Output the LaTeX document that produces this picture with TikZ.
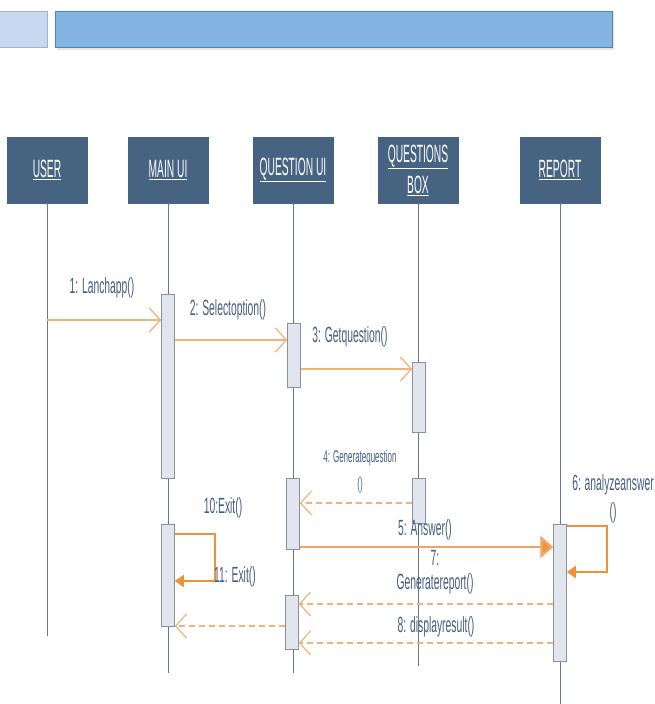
\documentclass[tikz,border=0pt]{standalone}
\usepackage{fontspec}
\setmainfont{Liberation Sans}
\newfontfamily\hdrfont{Liberation Sans}[FakeStretch=0.41]
\newfontfamily\lblfont{Liberation Sans}[FakeStretch=0.47]
\usetikzlibrary{arrows.meta,calc}
\definecolor{hdrc}{RGB}{70,99,130}
\definecolor{lifec}{RGB}{110,118,132}
\definecolor{actf}{RGB}{226,229,238}
\definecolor{actd}{RGB}{135,144,160}
\definecolor{orl}{RGB}{242,178,122}
\definecolor{orf}{RGB}{240,145,58}
\definecolor{ora}{RGB}{242,165,95}
\definecolor{lblc}{RGB}{68,94,128}
\definecolor{barf}{RGB}{132,180,226}
\definecolor{bard}{RGB}{74,134,184}
\definecolor{smf}{RGB}{200,216,240}
\definecolor{smd}{RGB}{160,178,205}
\tikzset{
  hdr/.style={draw=hdrc, fill=hdrc, minimum width=80pt, minimum height=66pt, inner sep=0pt,
    text=white, font=\hdrfont\fontsize{25}{31}\selectfont, align=center},
  lifel/.style={draw=lifec, line width=1pt},
  actbox/.style={draw=actd, fill=actf, line width=1pt, minimum width=12.5pt, inner sep=0pt},
  msgsolid/.style={draw=orl, line width=1.8pt, -{Straight Barb[length=11pt,width=24pt,line width=1.3pt]}},
  msgdash/.style={draw=orl, line width=1.5pt, dash pattern=on 6pt off 4pt, -{Straight Barb[length=11pt,width=24pt,line width=1.2pt]}},
  selfmsg/.style={draw=orf, line width=1.5pt, -{Triangle[length=9pt,width=12pt]}},
  bigmsg/.style={draw=ora, line width=2.5pt, -{Triangle[length=13pt,width=22pt,fill=orf]}},
  lbl/.style={text=lblc, font=\lblfont\fontsize{22}{25}\selectfont, inner sep=0pt, align=center},
  lblsmall/.style={text=lblc, font=\lblfont\fontsize{17}{19}\selectfont, inner sep=0pt, align=center}
}
\newcommand{\hul}[1]{{\color{white}\underline{#1}}}
\begin{document}
\begin{tikzpicture}[x=1pt,y=-1pt]
\useasboundingbox (0,0) rectangle (654,704);
% top bars
\draw[draw=smd, fill=smf, line width=1pt] (-2,11) rectangle (47,47);
\fill[black!10] (57,13) rectangle (614,50);
\draw[draw=bard, fill=barf, line width=1pt] (55,11) rectangle (612,47);
% headers
\node[hdr] (USER) at (47,170) {\hul{USER}};
\node[hdr] (MAIN) at (168,170) {\hul{MAIN UI}};
\node[hdr] (QUI) at (293,170) {\hul{QUESTION UI}};
\node[hdr] (QB) at (418,170) {\hul{QUESTIONS}\\\hul{BOX}};
\node[hdr] (REP) at (560,170) {\hul{REPORT}};
% lifeline ends
\coordinate (eU) at (47,636);
\coordinate (eM) at (168,673);
\coordinate (eQ) at (293,673);
\coordinate (eB) at (418,666);
\coordinate (eR) at (560,704);
\draw[lifel] (USER.south) -- (eU);
\draw[lifel] (MAIN.south) -- (eM);
\draw[lifel] (QUI.south) -- (eQ);
\draw[lifel] (QB.south) -- (eB);
\draw[lifel] (REP.south) -- (eR);
% activations
\node[actbox, minimum height=184pt] (mA1) at (168,386) {};
\node[actbox, minimum height=64pt] (qA1) at (294,355) {};
\node[actbox, minimum height=70pt] (bA1) at (419,397) {};
\node[actbox, minimum height=71pt] (qA2) at (293,513.5) {};
\node[actbox, minimum height=45pt] (bA2) at (419,500.5) {};
\node[actbox, minimum height=102pt] (mA2) at (168,575) {};
\node[actbox, minimum height=137pt] (rA) at (560,592.5) {};
\node[actbox, minimum height=54pt] (qA3) at (292,622) {};
% messages
\draw[msgsolid] (USER.south |- 0,320) -- (mA1.west |- 0,320);
\draw[msgsolid] (mA1.east |- 0,340) -- (qA1.west |- 0,340);
\draw[msgsolid] (qA1.east |- 0,369) -- (bA1.west |- 0,369);
\draw[msgdash] (bA2.west |- 0,503) -- (qA2.east |- 0,503);
\draw[selfmsg] (mA2.east |- 0,534) -- (215,534) -- (215,581) -- (mA2.east |- 0,581);
\draw[bigmsg] (qA2.east |- 0,547) -- (rA.west |- 0,547);
\draw[selfmsg] (rA.east |- 0,526) -- (607,526) -- (607,572) -- (rA.east |- 0,572);
\draw[msgdash] (rA.west |- 0,604) -- (qA3.east |- 0,604);
\draw[msgdash] (rA.west |- 0,643) -- (qA3.east |- 0,643);
\draw[msgdash] (qA3.west |- 0,626) -- (mA2.east |- 0,626);
% labels
\node[lbl] (l1) at (102,288) {1: Lanchapp()};
\node[lbl] (l2) at (228,310) {2: Selectoption()};
\node[lbl] (l3) at (350,337) {3: Getquestion()};
\node[lblsmall] (l4a) at (360,458) {4: Generatequestion};
\node[lblsmall] (l4b) at (360,485) {()};
\node[lbl] (l10) at (223,508) {10:Exit()};
\node[lbl] (l11) at (235,577) {11: Exit()};
\node[lbl] (l5) at (425,530) {5: Answer()};
\node[lbl] (l6a) at (613,485) {6: analyzeanswer};
\node[lbl] (l6b) at (613,513) {()};
\node[lbl] (l7a) at (435,558) {7:};
\node[lbl] (l7b) at (435,584) {Generatereport()};
\node[lbl] (l8) at (436,627) {8: displayresult()};
\end{tikzpicture}
\end{document}
